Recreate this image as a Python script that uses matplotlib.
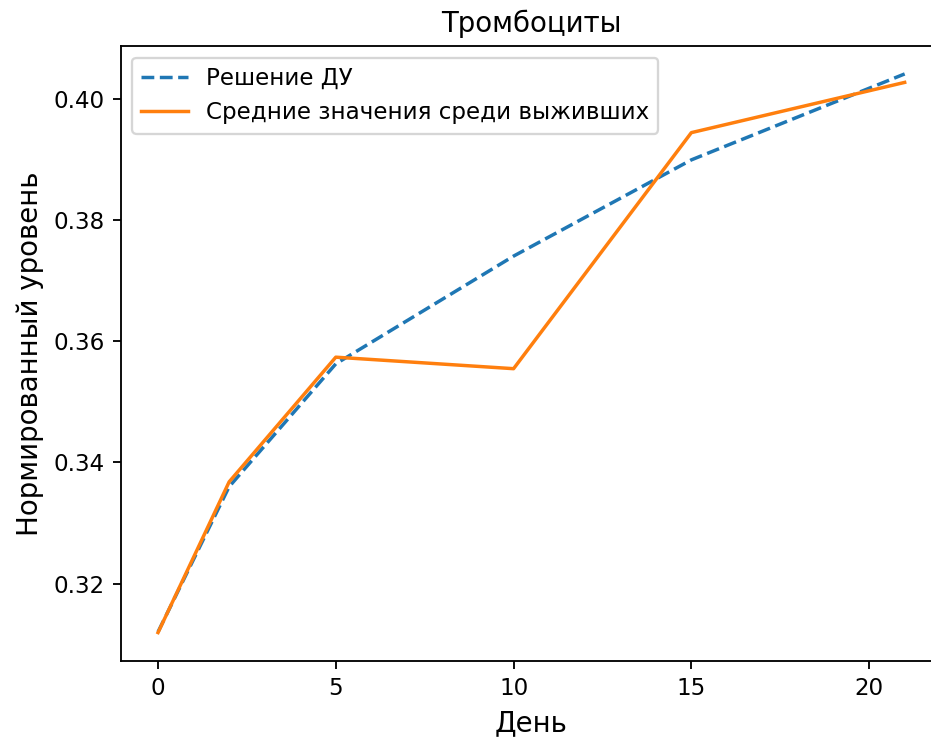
import matplotlib
matplotlib.use("Agg")
import matplotlib.pyplot as plt

days = [0, 2, 5, 10, 15, 21]
ode_solution = [0.3120, 0.3360, 0.3563, 0.3741, 0.3900, 0.4042]
survivor_means = [0.3119, 0.3368, 0.3574, 0.3555, 0.3945, 0.4028]

title = "Тромбоциты"
xlabel = "День"
ylabel = "Нормированный уровень"
label_ode = "Решение ДУ"
label_mean = "Средние значения среди выживших"

dpi = 166
fig = plt.figure(figsize=(932 / dpi, 737 / dpi), dpi=dpi)
W, H = 932, 737
left, right, top, bottom = 120.7, 942.0, 46.0, 660.5
ax = fig.add_axes([left / W, 1 - bottom / H, (right - left) / W, (bottom - top) / H])

ax.plot(days, ode_solution, linestyle="--", color="#1f77b4", label=label_ode)
ax.plot(days, survivor_means, color="#ff7f0e", label=label_mean)

ax.set_title(title, fontsize=12)
ax.set_xlabel(xlabel, fontsize=12)
ax.set_ylabel(ylabel, fontsize=12)
ax.set_xticks([0, 5, 10, 15, 20])
ax.set_yticks([0.32, 0.34, 0.36, 0.38, 0.40])
ax.legend(loc="upper left")

fig.savefig("out.png", dpi=dpi)
